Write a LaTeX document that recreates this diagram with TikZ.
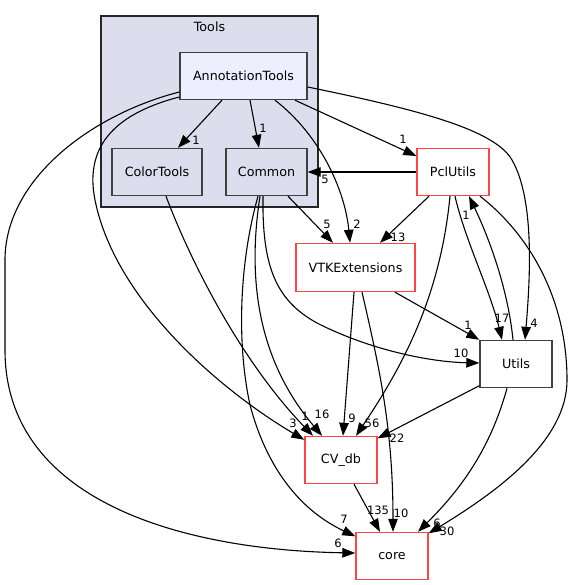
\documentclass[tikz,border=0pt]{standalone}
\usepackage{fontspec}
\setmainfont{DejaVu Sans}
\usetikzlibrary{arrows.meta,calc}
\definecolor{nodegray}{HTML}{404040}
\definecolor{dred}{HTML}{FF4444}
\definecolor{clfill}{HTML}{DDDDEE}
\definecolor{annfill}{HTML}{EEEEFF}
\newcommand{\dgnodefont}{\fontsize{12.7}{15}\selectfont}
\newcommand{\dglabfont}{\fontsize{11.5}{13}\selectfont}
\tikzset{
  dirbox/.style={rectangle, draw=nodegray, line width=1.4pt, inner sep=0pt, font=\dgnodefont},
  redbox/.style={dirbox, draw=dred, fill=white},
  graybox/.style={dirbox, fill=white},
  edge/.style={draw=black, line width=1.1pt, -{Triangle[length=13pt,width=9.5pt]}},
  elabel/.style={inner sep=0pt, font=\dglabfont},
}
\begin{document}
\begin{tikzpicture}[x=1pt,y=-1pt]
\useasboundingbox (0,0) rectangle (575,585);
% cluster
\node[draw=black!85, line width=1.1pt, fill=clfill, minimum width=217pt, minimum height=191pt, inner sep=0pt] (tools) at (209.5,111.5) {};
\node[inner sep=0pt, font=\dgnodefont] (toolslbl) at (209.5,27) {Tools};
% nodes
\node[dirbox, fill=annfill, minimum width=127pt, minimum height=47pt] (ann) at (243.5,76) {AnnotationTools};
\node[dirbox, fill=clfill, minimum width=90pt, minimum height=47pt] (ctools) at (157,172) {ColorTools};
\node[dirbox, fill=clfill, minimum width=81pt, minimum height=47pt] (common) at (266.5,172) {Common};
\node[redbox, minimum width=72pt, minimum height=47pt] (pcl) at (453,172) {PclUtils};
\node[redbox, minimum width=119pt, minimum height=48pt] (vtk) at (355.5,267.5) {VTKExtensions};
\node[graybox, minimum width=72pt, minimum height=47pt] (utils) at (516,364) {Utils};
\node[redbox, minimum width=72pt, minimum height=47pt] (cvdb) at (341,460) {CV\_db};
\node[redbox, minimum width=72pt, minimum height=47pt] (core) at (392,556) {core};

% edges from AnnotationTools
\draw[edge] ($(ann.south)+(-21.5,0)$) -- ($(ctools.north)+(21,0)$);
\draw[edge] ($(ann.south)+(6.5,0)$) -- ($(common.north)+(-7.5,0)$);
\draw[edge] ($(ann.south)+(51.5,0)$) -- ($(pcl.west)+(0,-16)$);
\draw[edge] ($(ann.south)+(31.5,0)$) .. controls (320,135) and (345,190) .. ($(vtk.north)+(-5.5,0)$);
\draw[edge] ($(ann.east)+(0,11)$) .. controls (420,110) and (495,130) .. (512,160) .. controls (535,200) and (530,280) .. ($(utils.north)+(9,0)$);
\draw[edge] ($(ann.west)+(0,21)$) .. controls (110,115) and (85,150) .. (95,200) .. controls (115,300) and (220,390) .. ($(cvdb.north west)+(0,4)$);
\draw[edge] ($(ann.west)+(0,16)$) .. controls (90,115) and (5,180) .. (5,260) -- (5,350) .. controls (5,500) and (180,550) .. ($(core.west)+(0,-3)$);
% ColorTools
\draw[edge] ($(ctools.south)+(9,0)$) .. controls (190,260) and (240,360) .. ($(cvdb.north)+(-28,0)$);
% Common
\draw[edge] ($(common.south)+(-6.5,0)$) .. controls (247,280) and (258,360) .. ($(cvdb.north)+(-19,0)$);
\draw[edge] ($(common.south)+(-8.5,0)$) .. controls (240,260) and (236,340) .. (250,405) .. controls (270,480) and (310,515) .. ($(core.north west)+(0,4.5)$);
\draw[edge] ($(common.south)+(21.5,0)$) -- ($(vtk.north)+(-22.5,0)$);
\draw[edge] ($(common.south)+(-3.5,0)$) .. controls (262,265) and (275,300) .. (317,323) .. controls (370,350) and (430,362) .. ($(utils.west)+(0,-1)$);
% PclUtils
\draw[edge] (pcl.west) -- (common.east);
\draw[edge] ($(pcl.south)+(-24,0)$) -- ($(vtk.north)+(24.5,0)$);
\draw[edge] ($(pcl.south)+(2,0)$) .. controls (465,240) and (490,290) .. ($(utils.north)+(-14,0)$);
\draw[edge] ($(pcl.south)+(-3,0)$) .. controls (440,300) and (400,370) .. ($(cvdb.north)+(15,0)$);
\draw[edge] ($(pcl.south)+(27,0)$) .. controls (530,235) and (567,300) .. (567,380) .. controls (567,440) and (500,490) .. ($(core.north east)+(0,1.5)$);
% Utils
\draw[edge] ($(utils.north)+(-3,0)$) .. controls (508,290) and (490,240) .. ($(pcl.south)+(16,0)$);
\draw[edge] ($(utils.south west)+(0,-2.5)$) -- ($(cvdb.north east)+(0,2.5)$);
\draw[edge] ($(utils.south)+(-9,0)$) .. controls (490,450) and (460,490) .. ($(core.north)+(26,0)$);
% VTKExtensions
\draw[edge] ($(vtk.south)+(39.5,0)$) -- (utils.north west);
\draw[edge] ($(vtk.south)+(-1.5,0)$) -- ($(cvdb.north)+(2,0)$);
\draw[edge] ($(vtk.south)+(6.5,0)$) .. controls (380,370) and (393,430) .. ($(core.north)+(1,0)$);
% CV_db
\draw[edge] ($(cvdb.south)+(13,0)$) -- ($(core.north)+(-12,0)$);

% edge labels
\node[elabel] (l1) at (196,140) {1};
\node[elabel] (l2) at (263,128) {1};
\node[elabel] (l3) at (403,139) {1};
\node[elabel] (l4) at (357,224) {2};
\node[elabel] (l5) at (534,323) {4};
\node[elabel] (l6) at (293,423) {3};
\node[elabel] (l7) at (338,543) {6};
\node[elabel] (l8) at (305,416) {1};
\node[elabel] (l9) at (322,414) {16};
\node[elabel] (l10) at (344,519) {7};
\node[elabel] (l11) at (327,224) {5};
\node[elabel] (l12) at (461,353) {10};
\node[elabel] (l13) at (325,179) {5};
\node[elabel] (l14) at (398,237) {13};
\node[elabel] (l15) at (502,318) {17};
\node[elabel] (l16) at (466,215) {1};
\node[elabel] (l17) at (372,423) {56};
\node[elabel] (l18) at (447,531) {30};
\node[elabel] (l19) at (468,325) {1};
\node[elabel] (l20) at (352,418) {9};
\node[elabel] (l21) at (401,513) {10};
\node[elabel] (l22) at (397,438) {22};
\node[elabel] (l23) at (437,523) {6};
\node[elabel] (l24) at (378,510) {135};
\end{tikzpicture}
\end{document}
